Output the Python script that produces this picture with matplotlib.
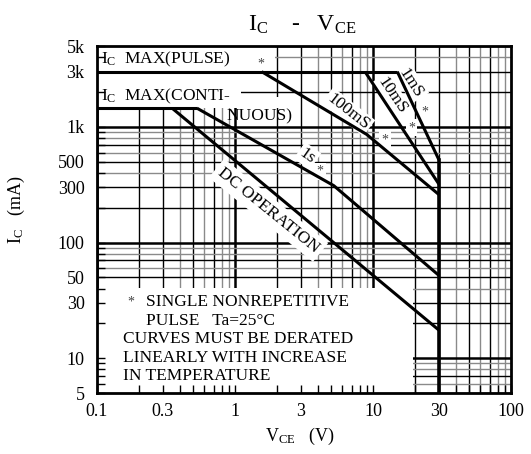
import numpy as np
import matplotlib
matplotlib.use("Agg")
import matplotlib.pyplot as plt
from matplotlib.patches import Rectangle
from matplotlib.ticker import FixedLocator, FixedFormatter, NullFormatter

plt.rcParams['font.family'] = ['Liberation Serif', 'DejaVu Serif']
plt.rcParams['mathtext.fontset'] = 'custom'
plt.rcParams['mathtext.rm'] = 'Liberation Serif'
plt.rcParams['mathtext.it'] = 'Liberation Serif'

# SOA curves, VCE in V, IC in mA
pulse_v = [0.1, 15]
pulse_i = [3000, 3000]
cont_v = [0.1, 0.53]
cont_i = [1450, 1450]
ms1_v = [15, 30]
ms1_i = [3000, 520]
ms10_v = [8.75, 30]
ms10_i = [3000, 320]
ms100_v = [1.56, 9, 30]
ms100_i = [3000, 860, 260]
s1_v = [0.53, 5.2, 30]
s1_i = [1450, 310, 52]
dc_v = [0.35, 30]
dc_i = [1450, 17.5]
vmax_v = [30, 30]
vmax_i = [520, 5]

xticks = [0.1, 0.3, 1, 3, 10, 30, 100]
xlabels = ["0.1", "0.3", "1", "3", "10", "30", "100"]
yticks = [5, 10, 30, 50, 100, 300, 500, 1000, 3000, 5000]
ylabels = ["5", "10", "30", "50", "100", "300", "500", "1k", "3k", "5k"]

fig = plt.figure(figsize=(5.31, 4.54), dpi=100)
ax = fig.add_axes([97/531, 61/454, 414/531, 347/454])
ax.set_xscale('log')
ax.set_yscale('log')
ax.set_xlim(0.1, 100)
ax.set_ylim(5, 5000)

# log paper grid
for dec in [0.1, 1, 10]:
    ax.axvline(dec, color='k', lw=1.8, zorder=0.5)
    for m in range(2, 10):
        c = 'k' if m in (2, 3, 5, 7) else '#8a8a8a'
        ax.axvline(dec*m, color=c, lw=1.0, zorder=0.5)
for dec in [1, 10, 100, 1000]:
    ax.axhline(dec, color='k', lw=1.8, zorder=0.5)
    for m in range(2, 10):
        if dec*m > 5000 or dec*m < 5:
            continue
        c = 'k' if m in (2, 3, 5, 7) else '#8a8a8a'
        ax.axhline(dec*m, color=c, lw=1.0, zorder=0.5)

# white label areas
ax.add_patch(Rectangle((0.1, 3000), 1.85, 2000, fc='white', ec='none', zorder=1))
ax.add_patch(Rectangle((0.1, 1450), 1.0, 1450, fc='white', ec='none', zorder=1))
ax.add_patch(Rectangle((0.1, 1450), 2.7, 370, fc='white', ec='none', zorder=1))
ax.add_patch(Rectangle((0.1, 5), 19.4, 35.5, fc='white', ec='none', zorder=1))
ax.set_axisbelow(False)

kw = dict(color='k', lw=2.2, zorder=3, solid_capstyle='butt')
ax.plot(pulse_v, pulse_i, **kw)
ax.plot(cont_v, cont_i, **kw)
ax.plot(ms1_v, ms1_i, **kw)
ax.plot(ms10_v, ms10_i, **kw)
ax.plot(ms100_v, ms100_i, **kw)
ax.plot(s1_v, s1_i, **kw)
ax.plot(dc_v, dc_i, **kw)
ax.plot(vmax_v, vmax_i, color='k', lw=2.6, zorder=3)

fs = 12.5
tz = 2.8
ax.text(0.107, 3800, r"$\mathregular{I_C}$  MAX(PULSE)", fontsize=fs, va='center', zorder=4)
ax.text(1.54, 3500, "*", fontsize=10, va='center', ha='center', zorder=4, color='#444')
ax.text(0.107, 1820, r"$\mathregular{I_C}$  MAX(CONTI-", fontsize=fs, va='center', zorder=4)
ax.text(1.5, 1237, "NUOUS)", fontsize=fs, va='center', ha='center', zorder=4)

bb = dict(fc='white', ec='none', pad=1.5)
ax.text(6.6, 1350, "100mS", fontsize=fs, rotation=-38, ha='center', va='center', zorder=tz, bbox=bb)
ax.text(12.2, 771, "*", fontsize=10, ha='center', va='center', zorder=tz, color='#444', bbox=bb)
ax.text(13.7, 1850, "10mS", fontsize=fs, rotation=-56, ha='center', va='center', zorder=tz, bbox=bb)
ax.text(19.1, 985, "*", fontsize=10, ha='center', va='center', zorder=tz, color='#444', bbox=bb)
ax.text(18.8, 2400, "1mS", fontsize=fs, rotation=-57, ha='center', va='center', zorder=tz, bbox=bb)
ax.text(23.9, 1353, "*", fontsize=10, ha='center', va='center', zorder=tz, color='#444', bbox=bb)
ax.text(3.35, 560, "1s", fontsize=fs, rotation=-35, ha='center', va='center', zorder=tz, bbox=bb)
ax.text(4.13, 411, "*", fontsize=10, ha='center', va='center', zorder=tz, color='#444', bbox=bb)
ax.text(1.75, 190, "DC OPERATION", fontsize=fs, rotation=-39, ha='center', va='center', zorder=tz,
        bbox=dict(fc='white', ec='none', pad=3))

ax.text(0.175, 30.4, "*", fontsize=10, ha='center', va='center', zorder=4, color='#444')
ax.text(0.2257, 30.4, "SINGLE NONREPETITIVE", fontsize=fs, va='center', zorder=4)
ax.text(0.2257, 21.1, "PULSE   Ta=25\u00b0C", fontsize=fs, va='center', zorder=4)
ax.text(0.1535, 14.6, "CURVES MUST BE DERATED", fontsize=fs, va='center', zorder=4)
ax.text(0.1535, 10.0, "LINEARLY WITH INCREASE", fontsize=fs, va='center', zorder=4)
ax.text(0.1535, 6.95, "IN TEMPERATURE", fontsize=fs, va='center', zorder=4)

ax.xaxis.set_major_locator(FixedLocator(xticks))
ax.xaxis.set_major_formatter(FixedFormatter(xlabels))
ax.xaxis.set_minor_formatter(NullFormatter())
ax.yaxis.set_major_locator(FixedLocator(yticks))
ax.yaxis.set_major_formatter(FixedFormatter(ylabels))
ax.yaxis.set_minor_formatter(NullFormatter())
ax.tick_params(which='both', direction='in', length=6, width=1, labelsize=13)
ax.tick_params(axis='x', which='both', pad=7)
ax.tick_params(axis='y', which='both', pad=9)
for s in ax.spines.values():
    s.set_linewidth(2)

fig.text(302/531, 1-25/454, r"$\mathregular{I_C}$    -   $\mathregular{V_{CE}}$", fontsize=17,
         ha='center', va='center')
fig.text(300/531, 1-436/454, r"$\mathregular{V_{CE}}$   (V)", fontsize=13, ha='center', va='center')
fig.text(16/531, 1-210/454, r"$\mathregular{I_C}$   (mA)", fontsize=13, ha='center', va='center',
         rotation=90)

plt.savefig("out.png", dpi=100)
